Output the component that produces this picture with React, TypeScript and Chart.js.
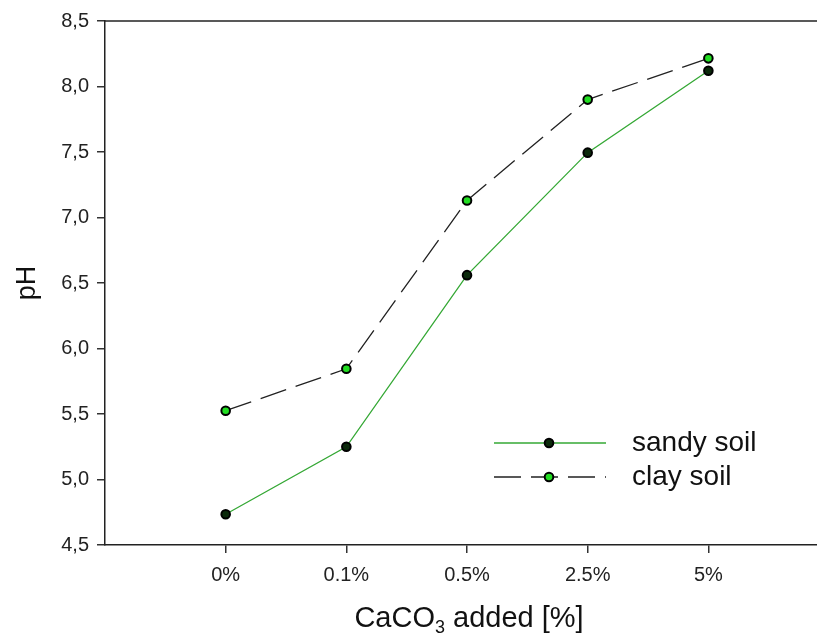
import React, { useEffect, useRef } from 'react';
import { Chart, registerables } from 'chart.js';

Chart.register(...registerables);

const categories = ['0%', '0.1%', '0.5%', '2.5%', '5%'];
const sandySoil = [4.735, 5.25, 6.56, 7.495, 8.12];
const claySoil = [5.525, 5.845, 7.13, 7.9, 8.215];
const seriesLabels = ['sandy soil', 'clay soil'];
const yMin = 4.5;
const yMax = 8.5;
const yStep = 0.5;
const xTitleMain = 'CaCO';
const xTitleSub = '3';
const xTitleRest = ' added [%]';
const yTitle = 'pH';

const FONT = '"Liberation Sans", Arial, sans-serif';

const decorPlugin = {
  id: 'decor',
  afterDraw(chart: any) {
    const ctx = chart.ctx as CanvasRenderingContext2D;
    const { left, right, top } = chart.chartArea;
    ctx.save();
    ctx.strokeStyle = '#222';
    ctx.lineWidth = 1.5;
    ctx.setLineDash([]);
    ctx.beginPath();
    ctx.moveTo(left, top);
    ctx.lineTo(right + 20, top);
    ctx.stroke();
    ctx.beginPath();
    ctx.moveTo(right, chart.chartArea.bottom);
    ctx.lineTo(right + 20, chart.chartArea.bottom);
    ctx.stroke();

    const dsList = chart.data.datasets;
    dsList.forEach((ds: any, i: number) => {
      const y = 443 + i * 34;
      ctx.strokeStyle = ds.borderColor;
      ctx.lineWidth = ds.borderWidth;
      ctx.setLineDash(ds.borderDash || []);
      ctx.beginPath();
      ctx.moveTo(494, y);
      ctx.lineTo(606, y);
      ctx.stroke();
      ctx.setLineDash([]);
      ctx.beginPath();
      ctx.arc(549, y, ds.pointRadius, 0, Math.PI * 2);
      ctx.fillStyle = ds.pointBackgroundColor;
      ctx.fill();
      ctx.strokeStyle = ds.pointBorderColor;
      ctx.lineWidth = ds.pointBorderWidth;
      ctx.stroke();
      ctx.fillStyle = '#111';
      ctx.font = `28px ${FONT}`;
      ctx.textAlign = 'left';
      ctx.textBaseline = 'middle';
      ctx.fillText(ds.label, 632, y);
    });

    ctx.fillStyle = '#111';
    ctx.textBaseline = 'alphabetic';
    ctx.textAlign = 'left';
    const big = `29px ${FONT}`;
    const small = `18px ${FONT}`;
    ctx.font = big;
    const w1 = ctx.measureText(xTitleMain).width;
    const w3 = ctx.measureText(xTitleRest).width;
    ctx.font = small;
    const w2 = ctx.measureText(xTitleSub).width;
    const total = w1 + w2 + w3;
    let x = 469 - total / 2;
    const base = 627;
    ctx.font = big;
    ctx.fillText(xTitleMain, x, base);
    x += w1;
    ctx.font = small;
    ctx.fillText(xTitleSub, x, base + 6);
    x += w2;
    ctx.font = big;
    ctx.fillText(xTitleRest, x, base);

    ctx.translate(28, 283);
    ctx.rotate(-Math.PI / 2);
    ctx.textAlign = 'center';
    ctx.textBaseline = 'middle';
    ctx.font = `27px ${FONT}`;
    ctx.fillText(yTitle, 0, 0);
    ctx.restore();
  },
};

export default function App() {
  const ref = useRef<HTMLCanvasElement | null>(null);

  useEffect(() => {
    if (!ref.current) return;
    const mk = (vals: number[]) => vals.map((v, i) => ({ x: i, y: v }));
    const chart = new Chart(ref.current, {
      type: 'line',
      data: {
        datasets: [
          {
            label: seriesLabels[0],
            data: mk(sandySoil),
            borderColor: '#35a835',
            borderWidth: 1.3,
            pointRadius: 4.3,
            pointBackgroundColor: '#0b2a0b',
            pointBorderColor: '#000',
            pointBorderWidth: 2,
            tension: 0,
          },
          {
            label: seriesLabels[1],
            data: mk(claySoil),
            borderColor: '#222',
            borderWidth: 1.3,
            borderDash: [27, 10],
            pointRadius: 4.3,
            pointBackgroundColor: '#22dd22',
            pointBorderColor: '#000',
            pointBorderWidth: 2,
            tension: 0,
          },
        ],
      },
      options: {
        responsive: false,
        animation: false,
        devicePixelRatio: 1,
        layout: { padding: { top: 21, left: 0, right: 0, bottom: 0 } },
        plugins: { legend: { display: false }, tooltip: { enabled: false } },
        scales: {
          x: {
            type: 'linear',
            min: -1,
            max: 4.906,
            afterBuildTicks: (s: any) => {
              s.ticks = categories.map((_, i) => ({ value: i }));
            },
            afterFit: (s: any) => {
              s.height = 90;
            },
            ticks: {
              callback: (v: any) => categories[v] ?? '',
              color: '#222',
              font: { family: FONT, size: 20 },
              padding: 10,
              maxRotation: 0,
              autoSkip: false,
            },
            grid: {
              drawOnChartArea: false,
              drawTicks: true,
              tickLength: 8,
              color: '#333',
              lineWidth: 1.5,
            },
            border: { display: true, color: '#222', width: 1.5 },
          },
          y: {
            type: 'linear',
            min: yMin,
            max: yMax,
            afterFit: (s: any) => {
              s.width = 105;
            },
            ticks: {
              stepSize: yStep,
              callback: (v: any) => Number(v).toFixed(1).replace('.', ','),
              color: '#222',
              font: { family: FONT, size: 20 },
              padding: 8,
            },
            grid: {
              drawOnChartArea: false,
              drawTicks: true,
              tickLength: 8,
              color: '#333',
              lineWidth: 1.5,
            },
            border: { display: true, color: '#222', width: 1.5 },
          },
        },
      },
      plugins: [decorPlugin],
    } as any);
    return () => chart.destroy();
  }, []);

  return (
    <div style={{ position: 'fixed', left: 0, top: 0, width: 817, height: 635, overflow: 'hidden', background: '#fff' }}>
      <canvas ref={ref} width={824} height={635} style={{ display: 'block' }} />
    </div>
  );
}
